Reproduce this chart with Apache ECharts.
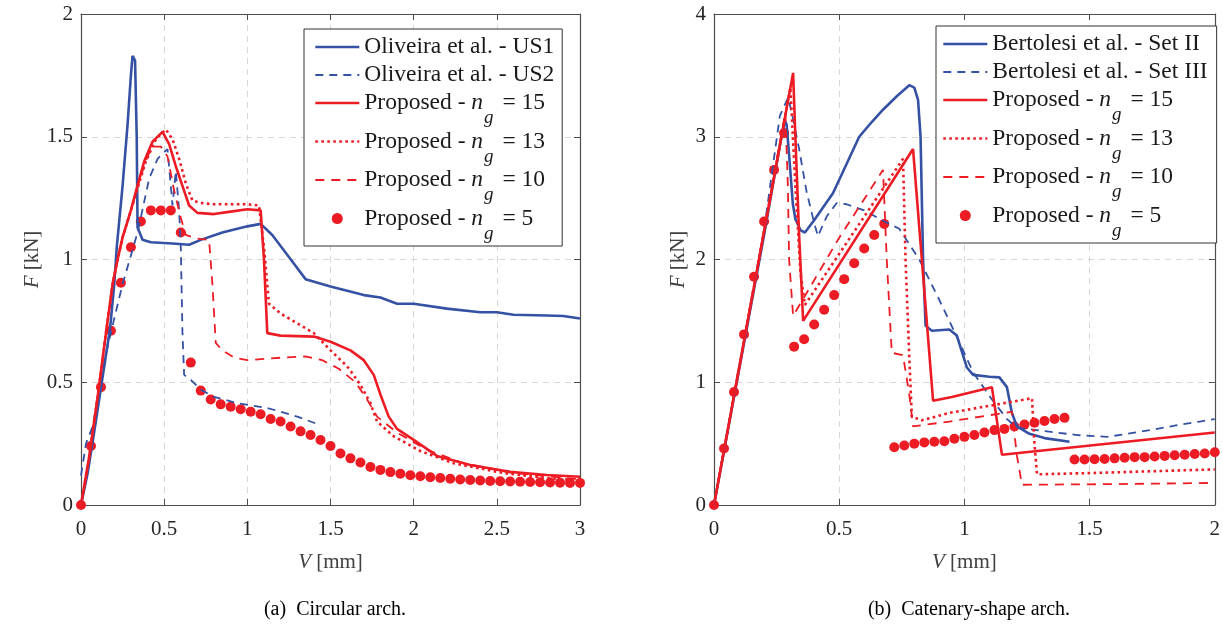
<!DOCTYPE html>
<html>
<head>
<meta charset="utf-8">
<script src="https://cdn.jsdelivr.net/npm/echarts@6/dist/echarts.min.js"></script>
<style>
    html, body { margin: 0; padding: 0; background: #fff; }
    #chart { width: 1223px; height: 627px; }
</style>
</head>
<body>
<div id="chart"></div>
<script>
    // ---- (a) circular arch, [V mm, F kN] ----
    var oliveiraUS1 = [[0,0],[0.04,0.13],[0.08,0.3],[0.125,0.5],[0.175,0.72],[0.2,0.9],[0.215,1.05],[0.25,1.3],[0.28,1.55],[0.3,1.75],[0.31,1.83],[0.325,1.81],[0.335,1.5],[0.34,1.13],[0.37,1.08],[0.42,1.07],[0.55,1.065],[0.65,1.06],[0.72,1.08],[0.85,1.11],[1.0,1.135],[1.08,1.145],[1.15,1.10],[1.25,1.01],[1.35,0.92],[1.5,0.89],[1.7,0.855],[1.8,0.845],[1.9,0.82],[2.0,0.82],[2.2,0.80],[2.4,0.785],[2.5,0.785],[2.6,0.775],[2.8,0.772],[2.9,0.77],[3.0,0.76]];
    var oliveiraUS2 = [[0,0.12],[0.03,0.25],[0.07,0.32],[0.11,0.47],[0.155,0.63],[0.2,0.76],[0.25,0.9],[0.31,1.04],[0.34,1.11],[0.41,1.33],[0.46,1.41],[0.52,1.45],[0.54,1.3],[0.55,1.22],[0.57,1.36],[0.59,1.2],[0.6,1.05],[0.61,0.7],[0.62,0.53],[0.66,0.51],[0.72,0.47],[0.8,0.44],[0.94,0.415],[1.12,0.395],[1.2,0.38],[1.3,0.36],[1.42,0.33]];
    var circNg15 = [[0,0],[0.05,0.2],[0.1,0.44],[0.15,0.7],[0.19,0.9],[0.22,1.0],[0.25,1.09],[0.3,1.2],[0.335,1.29],[0.38,1.4],[0.43,1.48],[0.49,1.52],[0.53,1.47],[0.57,1.38],[0.61,1.3],[0.65,1.22],[0.7,1.19],[0.8,1.185],[0.9,1.195],[1.0,1.205],[1.08,1.2],[1.1,1.0],[1.12,0.7],[1.2,0.69],[1.4,0.686],[1.5,0.665],[1.62,0.63],[1.7,0.59],[1.76,0.53],[1.8,0.45],[1.85,0.36],[1.9,0.31],[2.0,0.265],[2.14,0.2],[2.34,0.163],[2.58,0.135],[2.8,0.122],[3.0,0.115]];
    var circNg13 = [[0,0],[0.05,0.2],[0.1,0.44],[0.15,0.7],[0.19,0.9],[0.22,1.0],[0.25,1.09],[0.3,1.2],[0.34,1.29],[0.39,1.4],[0.45,1.49],[0.51,1.53],[0.55,1.49],[0.59,1.41],[0.63,1.31],[0.67,1.24],[0.72,1.23],[0.8,1.225],[0.9,1.225],[1.0,1.225],[1.07,1.22],[1.1,1.05],[1.13,0.82],[1.2,0.78],[1.3,0.74],[1.4,0.70],[1.5,0.63],[1.6,0.565],[1.68,0.49],[1.74,0.415],[1.78,0.34],[1.88,0.28],[2.04,0.22],[2.24,0.17],[2.54,0.13],[2.8,0.11],[3.0,0.10]];
    var circNg10 = [[0,0],[0.05,0.2],[0.1,0.44],[0.15,0.7],[0.19,0.9],[0.22,1.0],[0.25,1.09],[0.3,1.2],[0.35,1.32],[0.4,1.42],[0.43,1.46],[0.48,1.46],[0.52,1.42],[0.56,1.28],[0.6,1.17],[0.63,1.1],[0.7,1.085],[0.77,1.08],[0.79,0.9],[0.81,0.66],[0.85,0.63],[0.92,0.6],[1.0,0.59],[1.2,0.6],[1.35,0.605],[1.45,0.59],[1.55,0.555],[1.65,0.5],[1.72,0.43],[1.78,0.36],[1.9,0.295],[2.08,0.225],[2.3,0.17],[2.6,0.13],[3.0,0.105]];
    var circNg5 = [[0,0],[0.06,0.24],[0.12,0.48],[0.18,0.71],[0.24,0.905],[0.30,1.05],[0.36,1.155],[0.42,1.2],[0.48,1.2],[0.54,1.2],[0.60,1.11],[0.66,0.58],[0.72,0.466],[0.78,0.43],[0.84,0.41],[0.90,0.40],[0.96,0.39],[1.02,0.38],[1.08,0.37],[1.14,0.35],[1.20,0.34],[1.26,0.32],[1.32,0.30],[1.38,0.285],[1.44,0.265],[1.50,0.24],[1.56,0.21],[1.62,0.19],[1.68,0.173],[1.74,0.155],[1.80,0.143],[1.86,0.134],[1.92,0.127],[1.98,0.121],[2.04,0.117],[2.10,0.113],[2.16,0.11],[2.22,0.107],[2.28,0.104],[2.34,0.102],[2.40,0.10],[2.46,0.098],[2.52,0.097],[2.58,0.096],[2.64,0.095],[2.70,0.094],[2.76,0.093],[2.82,0.092],[2.88,0.091],[2.94,0.09],[3.00,0.09]];

    // ---- (b) catenary-shape arch ----
    var bertolesiSetII = [[0,0],[0.1,1.1],[0.2,2.2],[0.265,2.95],[0.283,3.13],[0.29,3.1],[0.3,2.85],[0.315,2.45],[0.325,2.33],[0.345,2.24],[0.363,2.22],[0.4,2.32],[0.475,2.54],[0.53,2.78],[0.58,3.0],[0.63,3.12],[0.675,3.22],[0.73,3.33],[0.78,3.42],[0.8,3.4],[0.815,3.3],[0.825,3.0],[0.835,2.0],[0.845,1.46],[0.87,1.42],[0.94,1.43],[0.97,1.38],[0.99,1.25],[1.01,1.12],[1.035,1.06],[1.1,1.045],[1.14,1.04],[1.17,0.96],[1.19,0.75],[1.21,0.64],[1.26,0.58],[1.32,0.545],[1.42,0.515]];
    var bertolesiSetIII = [[0,0],[0.1,1.12],[0.2,2.24],[0.263,3.17],[0.296,3.32],[0.31,3.2],[0.34,2.9],[0.37,2.55],[0.4,2.3],[0.415,2.19],[0.45,2.35],[0.49,2.46],[0.53,2.45],[0.6,2.4],[0.69,2.3],[0.74,2.25],[0.82,2.0],[0.9,1.67],[0.97,1.37],[1.035,1.08],[1.11,0.86],[1.17,0.7],[1.21,0.63],[1.33,0.6],[1.45,0.57],[1.57,0.555],[1.65,0.58],[1.74,0.61],[1.85,0.65],[1.94,0.68],[2.0,0.7]];
    var catNg15 = [[0,0],[0.316,3.52],[0.325,3.0],[0.34,2.2],[0.356,1.5],[0.795,2.9],[0.875,0.85],[0.95,0.88],[1.11,0.96],[1.15,0.41],[2.0,0.59]];
    var catNg13 = [[0,0],[0.305,3.4],[0.325,2.6],[0.345,1.9],[0.363,1.63],[0.755,2.82],[0.765,2.0],[0.78,1.2],[0.79,0.72],[0.83,0.69],[0.94,0.75],[1.27,0.87],[1.28,0.5],[1.29,0.25],[1.5,0.26],[2.0,0.29]];
    var catNg10 = [[0,0],[0.285,3.2],[0.295,2.6],[0.3,2.0],[0.316,1.54],[0.495,2.16],[0.675,2.73],[0.69,2.0],[0.71,1.24],[0.755,1.22],[0.78,0.9],[0.795,0.64],[0.94,0.68],[1.19,0.76],[1.21,0.4],[1.23,0.165],[1.6,0.17],[2.0,0.18]];
    var catNg5 = [[0,0],[0.04,0.46],[0.08,0.92],[0.12,1.39],[0.16,1.86],[0.2,2.31],[0.24,2.73],[0.28,3.03],
        [0.32,1.29],[0.36,1.35],[0.40,1.47],[0.44,1.59],[0.48,1.71],[0.52,1.84],[0.56,1.97],[0.60,2.09],[0.64,2.2],[0.68,2.29],
        [0.72,0.47],[0.76,0.485],[0.80,0.5],[0.84,0.51],[0.88,0.515],[0.92,0.52],[0.96,0.54],[1.00,0.555],[1.04,0.57],[1.08,0.59],[1.12,0.61],[1.16,0.62],[1.20,0.64],[1.24,0.655],[1.28,0.67],[1.32,0.685],[1.36,0.70],[1.40,0.71],
        [1.44,0.37],[1.48,0.37],[1.52,0.372],[1.56,0.375],[1.60,0.38],[1.64,0.385],[1.68,0.39],[1.72,0.39],[1.76,0.395],[1.80,0.40],[1.84,0.405],[1.88,0.41],[1.92,0.415],[1.96,0.42],[2.00,0.43]];

    var legendA = ['Oliveira et al. - US1', 'Oliveira et al. - US2', 'Proposed - n_g = 15', 'Proposed - n_g = 13', 'Proposed - n_g = 10', 'Proposed - n_g = 5'];
    var legendB = ['Bertolesi et al. - Set II', 'Bertolesi et al. - Set III', 'Proposed - n_g = 15', 'Proposed - n_g = 13', 'Proposed - n_g = 10', 'Proposed - n_g = 5'];
    var captions = ['(a)  Circular arch.', '(b)  Catenary-shape arch.'];

    var BLUE = '#3551a4', RED = '#ed1c24';
    var FONT = 'Liberation Serif';
    var INK = '#262626';
    var lineWidths = [2.6, 1.8, 2.6, 2.6, 1.8];

    var myChart = echarts.init(document.getElementById('chart'));

    function mainX(idx, max) {
        return {
            gridIndex: idx, type: 'value', min: 0, max: max, interval: 0.5, position: 'bottom',
            name: '{i|V} [mm]', nameLocation: 'middle', nameGap: 47,
            nameTextStyle: { fontFamily: FONT, fontSize: 21, color: '#404040', rich: { i: { fontFamily: FONT, fontSize: 21, fontStyle: 'italic', color: '#404040' } } },
            axisLine: { show: true, onZero: false, lineStyle: { color: '#4d4d4d', width: 1.2 } },
            axisTick: { show: true, inside: true, length: 6, lineStyle: { color: '#4d4d4d' } },
            axisLabel: { fontFamily: FONT, fontSize: 21, color: INK, margin: 14 },
            splitLine: { show: true, lineStyle: { color: '#d6d6d6', type: [6, 5], width: 1 } }
        };
    }
    function boxX(idx, max) {
        return {
            gridIndex: idx, type: 'value', min: 0, max: max, interval: 0.5, position: 'top',
            axisLine: { show: true, onZero: false, lineStyle: { color: '#4d4d4d', width: 1.2 } },
            axisTick: { show: true, inside: true, length: 6, lineStyle: { color: '#4d4d4d' } },
            axisLabel: { show: false }, splitLine: { show: false }
        };
    }
    function mainY(idx, max, step, gap) {
        return {
            gridIndex: idx, type: 'value', min: 0, max: max, interval: step, position: 'left',
            name: '{i|F} [kN]', nameLocation: 'middle', nameGap: gap,
            nameTextStyle: { fontFamily: FONT, fontSize: 21, color: '#404040', rich: { i: { fontFamily: FONT, fontSize: 21, fontStyle: 'italic', color: '#404040' } } },
            axisLine: { show: true, onZero: false, lineStyle: { color: '#4d4d4d', width: 1.2 } },
            axisTick: { show: true, inside: true, length: 6, lineStyle: { color: '#4d4d4d' } },
            axisLabel: { fontFamily: FONT, fontSize: 21, color: INK, margin: 8 },
            splitLine: { show: true, lineStyle: { color: '#d6d6d6', type: [6, 5], width: 1 } }
        };
    }
    function boxY(idx, max, step) {
        return {
            gridIndex: idx, type: 'value', min: 0, max: max, interval: step, position: 'right',
            axisLine: { show: true, onZero: false, lineStyle: { color: '#4d4d4d', width: 1.2 } },
            axisTick: { show: true, inside: true, length: 6, lineStyle: { color: '#4d4d4d' } },
            axisLabel: { show: false }, splitLine: { show: false }
        };
    }

    function curve(name, data, axis, color, width, dash) {
        return {
            name: name, type: 'line', data: data, xAxisIndex: axis, yAxisIndex: axis,
            symbol: 'none', showSymbol: false, smooth: false, animation: false,
            lineStyle: { color: color, width: width, type: dash, cap: 'butt' },
            itemStyle: { color: color }
        };
    }
    function dots(name, data, axis) {
        return {
            name: name, type: 'scatter', data: data, xAxisIndex: axis, yAxisIndex: axis,
            symbol: 'circle', symbolSize: 10, animation: false,
            itemStyle: { color: RED, opacity: 1 }
        };
    }

    // line entries hide the marker that echarts puts in the middle of a line icon
    function legendBox(names, left, top, padding) {
        var items = names.map(function (n, k) {
            return k < 5 ? { name: n, itemStyle: { opacity: 0 }, lineStyle: { width: lineWidths[k] } } : { name: n };
        });
        return {
            data: items, orient: 'vertical', left: left, top: top, padding: padding,
            itemWidth: 44, itemHeight: 11, itemGap: 0,
            backgroundColor: '#fff', borderColor: '#333', borderWidth: 1, borderRadius: 0,
            selectedMode: false,
            formatter: function (name) { return name.replace('n_g', '{i|n}{s|g}'); },
            textStyle: {
                fontFamily: FONT, fontSize: 23.5, color: '#1a1a1a', lineHeight: 28,
                rich: {
                    i: { fontFamily: FONT, fontSize: 23.5, fontStyle: 'italic', color: '#1a1a1a' },
                    s: { fontFamily: FONT, fontSize: 19, fontStyle: 'italic', color: '#1a1a1a', height: 1, padding: [30, 3, 0, 1] }
                }
            }
        };
    }

    var option = {
        backgroundColor: '#fff',
        animation: false,
        title: [
            { text: captions[0], left: 330, top: 595, textAlign: 'center', textStyle: { fontFamily: FONT, fontSize: 20, fontWeight: 'normal', color: '#000' } },
            { text: captions[1], left: 964, top: 595, textAlign: 'center', textStyle: { fontFamily: FONT, fontSize: 20, fontWeight: 'normal', color: '#000' } }
        ],
        grid: [
            { left: 81, top: 14, width: 499, height: 491 },
            { left: 714, top: 14, width: 501, height: 491 }
        ],
        xAxis: [mainX(0, 3), mainX(1, 2), boxX(0, 3), boxX(1, 2)],
        yAxis: [mainY(0, 2, 0.5, 29), mainY(1, 4, 1, 25), boxY(0, 2, 0.5), boxY(1, 4, 1)],
        legend: [
            legendBox(legendA, 304, 29, [4, 8, 3, 10]),
            legendBox(legendB, 936, 26, [4, 9, 3, 6])
        ],
        series: [
            curve(legendA[0], oliveiraUS1, 0, BLUE, lineWidths[0], 'solid'),
            curve(legendA[1], oliveiraUS2, 0, BLUE, lineWidths[1], [8, 6]),
            curve(legendA[2], circNg15, 0, RED, lineWidths[2], 'solid'),
            curve(legendA[3], circNg13, 0, RED, lineWidths[3], [2.6, 3.4]),
            curve(legendA[4], circNg10, 0, RED, lineWidths[4], [9, 7]),
            dots(legendA[5], circNg5, 0),

            curve(legendB[0], bertolesiSetII, 1, BLUE, lineWidths[0], 'solid'),
            curve(legendB[1], bertolesiSetIII, 1, BLUE, lineWidths[1], [8, 6]),
            curve(legendB[2], catNg15, 1, RED, lineWidths[2], 'solid'),
            curve(legendB[3], catNg13, 1, RED, lineWidths[3], [2.6, 3.4]),
            curve(legendB[4], catNg10, 1, RED, lineWidths[4], [9, 7]),
            dots(legendB[5], catNg5, 1)
        ]
    };
    myChart.setOption(option);
</script>
</body>
</html>
